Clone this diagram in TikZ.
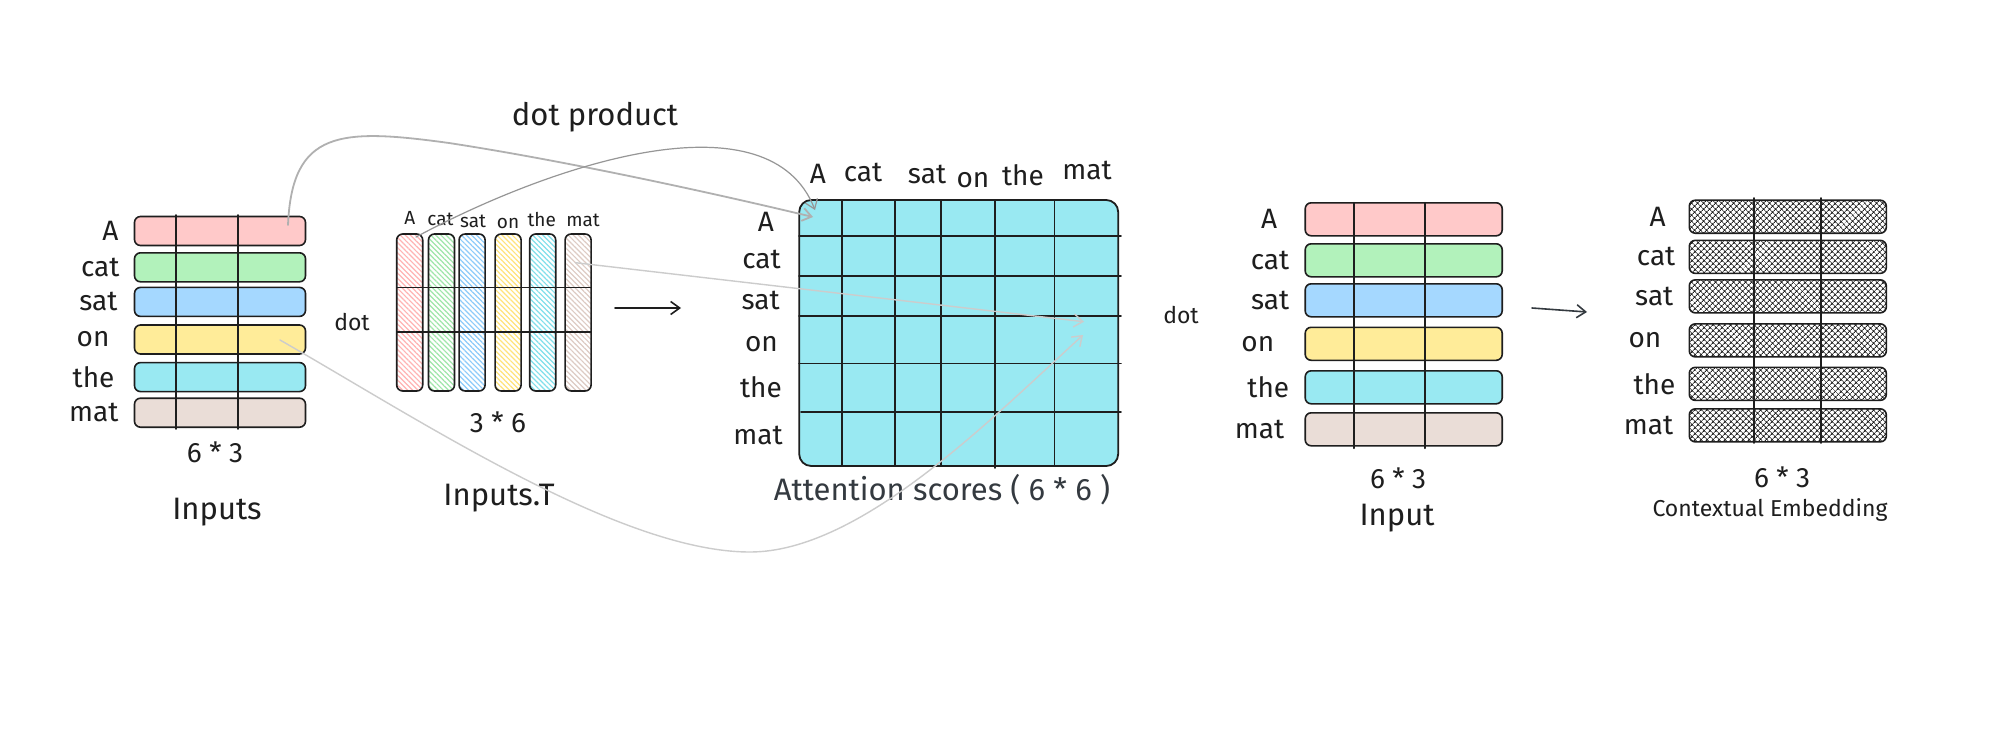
\documentclass[tikz,border=0pt]{standalone}
\usepackage{fontspec}
\setmainfont{Fira Sans}
\usetikzlibrary{arrows.meta,positioning,patterns.meta}

\definecolor{ink}{HTML}{1E1E1E}
\definecolor{slate}{HTML}{343A40}
\definecolor{redfill}{HTML}{FFC9C9}
\definecolor{greenfill}{HTML}{B2F2BB}
\definecolor{bluefill}{HTML}{A5D8FF}
\definecolor{yellowfill}{HTML}{FFEC99}
\definecolor{cyanfill}{HTML}{99E9F2}
\definecolor{brownfill}{HTML}{EADDD7}
\definecolor{redline}{HTML}{FFB3B3}
\definecolor{greenline}{HTML}{9EE6A9}
\definecolor{blueline}{HTML}{8CCBFA}
\definecolor{yellowline}{HTML}{FFE37A}
\definecolor{cyanline}{HTML}{7FDFEB}
\definecolor{brownline}{HTML}{DDCBC3}
\definecolor{wire}{HTML}{B0B0B0}
\definecolor{softwire}{HTML}{CCCCCC}

\newcommand{\wordfont}{\fontsize{28}{32}\selectfont}
\newcommand{\smallword}{\fontsize{19}{22}\selectfont}
\newcommand{\titlefont}{\fontsize{31}{36}\selectfont}
\newcommand{\notefont}{\fontsize{23}{28}\selectfont}

\tikzset{
  vec/.style={draw=ink, line width=1.6pt, rounded corners=6pt,
    minimum width=171pt, minimum height=29pt, inner sep=0pt},
  wide vec/.style={vec, minimum width=197pt, minimum height=33pt},
  col/.style={draw=ink, line width=1.6pt, rounded corners=6pt,
    minimum width=26pt, minimum height=157pt, inner sep=0pt,
    pattern={Lines[angle=-45,distance=3.6pt,line width=1.2pt]}},
  mixed/.style={wide vec, pattern={Hatch[angle=45,distance=4pt,line width=0.9pt]},
    pattern color=ink},
  grid/.style={draw=ink, line width=1.6pt},
  word/.style={font=\wordfont, text=ink, inner sep=0pt},
  small word/.style={font=\smallword, text=ink, inner sep=0pt},
  title/.style={font=\titlefont, text=ink, inner sep=0pt},
  note/.style={font=\notefont, text=ink, inner sep=0pt},
  link/.style={draw=wire, line width=1.8pt},
  thin link/.style={draw=wire!85!black, line width=1.2pt},
  soft link/.style={draw=softwire, line width=1.4pt}
}

\begin{document}
\begin{tikzpicture}[x=1pt, y=-1pt, line cap=round,
    >={Straight Barb[length=9pt,width=13pt]}]
  \fill[white] (0,0) rectangle (1991,736);

  % inputs
  \node[vec, fill=redfill] (inA) at (220,231) {};
  \node[vec, fill=greenfill, below=5.7pt of inA] (inCat) {};
  \node[vec, fill=bluefill, below=4pt of inCat] (inSat) {};
  \node[vec, fill=yellowfill, below=7pt of inSat] (inOn) {};
  \node[vec, fill=cyanfill, below=7pt of inOn] (inThe) {};
  \node[vec, fill=brownfill, below=5pt of inThe] (inMat) {};
  \draw[grid] (176,215) -- (176,429) (238,215) -- (238,429);

  \node[word, left=15pt of inA] (lA) {A};
  \node[word, left=14pt of inCat] (lCat) {cat};
  \node[word, left=16pt of inSat] (lSat) {sat};
  \node[word, left=24pt of inOn] (lOn) {on};
  \node[word, left=19pt of inThe] (lThe) {the};
  \node[word, left=15pt of inMat] (lMat) {mat};

  \node[word] (inDim) at (215,452) {6 * 3};
  \node[title] (inName) at (217,512) {Inputs};

  % inputs transposed
  \node[col, pattern color=redline] (tA) at (409.7,312.5) {};
  \node[col, pattern color=greenline, right=4.4pt of tA] (tCat) {};
  \node[col, pattern color=blueline, right=3pt of tCat] (tSat) {};
  \node[col, pattern color=yellowline, right=8.4pt of tSat] (tOn) {};
  \node[col, pattern color=cyanline, right=7pt of tOn] (tThe) {};
  \node[col, pattern color=brownline, right=7.8pt of tThe] (tMat) {};
  \draw[grid] (397,287.3) -- (591,287.3) (397,332) -- (591,332);

  \node[small word, above=9pt of tA] (uA) {A};
  \node[small word, above=7pt of tCat, xshift=-1pt] (uCat) {cat};
  \node[small word, above=5pt of tSat, xshift=1pt] (uSat) {sat};
  \node[small word, above=4pt of tOn] (uOn) {on};
  \node[small word, above=6pt of tThe, xshift=-1pt] (uThe) {the};
  \node[small word, above=6pt of tMat, xshift=5pt] (uMat) {mat};

  \node[word] (tDim) at (498,422) {3 * 6};
  \node[title] (tName) at (499,498) {Inputs.T};
  \node[note] (dotL) at (352,322) {dot};

  \coordinate (goS) at (615,308);
  \coordinate (goE) at (681,308);
  \draw[ink, line width=1.6pt, ->] (goS) -- (goE);

  % attention scores
  \node[draw=ink, line width=1.8pt, rounded corners=12pt, fill=cyanfill,
    minimum width=319pt, minimum height=266pt, inner sep=0pt] (attn) at (958.7,333) {};
  \draw[grid] (841.7,200) -- (841.7,466) (895,200) -- (895,466)
    (940.7,200) -- (940.7,466) (995,200) -- (995,468) (1054.3,200) -- (1054.3,466);
  \draw[grid] (799,235.7) -- (1121,235.7) (799,276) -- (1121,276)
    (799,316) -- (1121,316) (799,363.3) -- (1121,363.3) (801,411.7) -- (1121,411.7);

  \node[word, anchor=base] (aA) at (818,183) {A};
  \node[word, anchor=base] (aCat) at (863,181) {cat};
  \node[word, anchor=base] (aSat) at (927,183) {sat};
  \node[word, anchor=base] (aOn) at (973,187) {on};
  \node[word, anchor=base] (aThe) at (1023,185) {the};
  \node[word, anchor=base] (aMat) at (1087,179) {mat};

  \node[word, anchor=east] (bA) at (774,222) {A};
  \node[word, anchor=east] (bCat) at (781,259) {cat};
  \node[word, anchor=east] (bSat) at (780,300) {sat};
  \node[word, anchor=east] (bOn) at (778,344) {on};
  \node[word, anchor=east] (bThe) at (782,387) {the};
  \node[word, anchor=east] (bMat) at (783,435) {mat};

  \node[title, text=slate] (attnName) at (942,490) {Attention scores ( 6 * 6 )};
  \node[title] (dotP) at (595,117) {dot product};
  \node[note] (dotR) at (1181,315) {dot};

  % dot product links
  \coordinate (fromA) at (288,225);
  \coordinate (toA) at (813,217);
  \coordinate (fromTA) at (416,237);
  \coordinate (toTA) at (815,210);
  \coordinate (fromOn) at (280,340);
  \coordinate (toOn) at (1083,335);
  \coordinate (fromTMat) at (575.5,262.7);
  \coordinate (toTMat) at (1084,321.7);

  \draw[link, ->] (fromA) .. controls (292,130) and (340,128) .. (449,143)
    .. controls (560,160) and (700,190) .. (toA);
  \draw[thin link, ->] (fromTA) .. controls (560,160) and (770,95) .. (toTA);
  \draw[soft link, ->] (fromOn) .. controls (420,420) and (620,552) .. (750,552)
    .. controls (860,552) and (990,420) .. (toOn);
  \draw[soft link, ->] (fromTMat) -- (toTMat);

  % input
  \node[wide vec, fill=redfill] (rA) at (1403.7,219.3) {};
  \node[wide vec, fill=greenfill, below=6.4pt of rA] (rCat) {};
  \node[wide vec, fill=bluefill, below=5.4pt of rCat] (rSat) {};
  \node[wide vec, fill=yellowfill, below=8.9pt of rSat] (rOn) {};
  \node[wide vec, fill=cyanfill, below=8.9pt of rOn] (rThe) {};
  \node[wide vec, fill=brownfill, below=7.4pt of rThe] (rMat) {};
  \draw[grid] (1354,202.7) -- (1354,448.3) (1425,202.7) -- (1425,448.3);

  \node[word, left=27pt of rA] (sA) {A};
  \node[word, left=15pt of rCat] (sCat) {cat};
  \node[word, left=15pt of rSat] (sSat) {sat};
  \node[word, left=30pt of rOn] (sOn) {on};
  \node[word, left=15pt of rThe] (sThe) {the};
  \node[word, left=20pt of rMat] (sMat) {mat};

  \node[word] (rDim) at (1398,478) {6 * 3};
  \node[title] (rName) at (1397,518) {Input};

  \coordinate (nextS) at (1532,308);
  \coordinate (nextE) at (1587,312);
  \draw[slate, line width=1.6pt, ->] (nextS) -- (nextE);

  % contextual embedding
  \node[mixed] (cA) at (1787.8,216.7) {};
  \node[mixed, below=5.9pt of cA] (cCat) {};
  \node[mixed, below=4.9pt of cCat] (cSat) {};
  \node[mixed, below=9.4pt of cSat] (cOn) {};
  \node[mixed, below=8.9pt of cOn] (cThe) {};
  \node[mixed, below=6.9pt of cThe] (cMat) {};
  \draw[grid] (1754,198) -- (1754,443) (1820.7,198) -- (1820.7,443);

  \node[word, left=23pt of cA] (eA) {A};
  \node[word, left=13pt of cCat] (eCat) {cat};
  \node[word, left=15pt of cSat] (eSat) {sat};
  \node[word, left=27pt of cOn] (eOn) {on};
  \node[word, left=13pt of cThe] (eThe) {the};
  \node[word, left=15pt of cMat] (eMat) {mat};

  \node[word] (cDim) at (1782,477) {6 * 3};
  \node[note] (cName) at (1770,510) {Contextual Embedding};
\end{tikzpicture}
\end{document}
